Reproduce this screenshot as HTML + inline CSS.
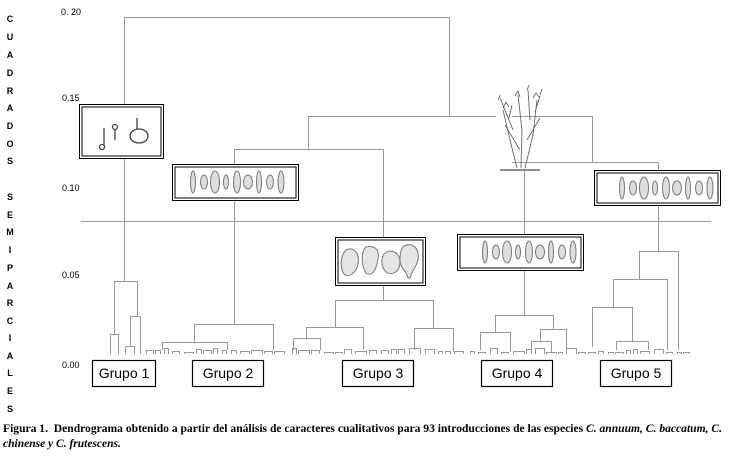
<!DOCTYPE html>
<html><head><meta charset="utf-8"><style>
html,body{margin:0;padding:0;background:#fff;width:737px;height:459px;overflow:hidden}
svg{display:block}
.ax{font-family:"Liberation Sans",sans-serif;font-size:9px;fill:#000}
.vl{font-family:"Liberation Sans",sans-serif;font-size:9px;font-weight:bold;fill:#000}
.g{font-family:"Liberation Sans",sans-serif;font-size:14px;fill:#000}
.cap{font-family:"Liberation Serif",serif;font-size:11.5px;font-weight:bold;fill:#000}
</style></head><body>
<svg id="s" width="737" height="459" viewBox="0 0 737 459" xmlns="http://www.w3.org/2000/svg">
<g class="ax">
<text x="61" y="15">0. 20</text><text x="62" y="101">0.15</text><text x="62" y="191">0.10</text><text x="62" y="278">0.05</text><text x="62" y="368">0.00</text>
</g>
<g class="vl" text-anchor="middle">
<text x="10" y="22">C</text><text x="10" y="40">U</text><text x="10" y="58">A</text><text x="10" y="76">D</text><text x="10" y="94">R</text><text x="10" y="111">A</text><text x="10" y="129">D</text><text x="10" y="147">O</text><text x="10" y="164">S</text>
<text x="10" y="200">S</text><text x="10" y="218">E</text><text x="10" y="235">M</text><text x="10" y="253">I</text><text x="10" y="271">P</text><text x="10" y="289">A</text><text x="10" y="306">R</text><text x="10" y="324">C</text><text x="10" y="341">I</text><text x="10" y="359">A</text><text x="10" y="376">L</text><text x="10" y="394">E</text><text x="10" y="412">S</text>
</g>
<text class="cap" x="3" y="432" textLength="719" lengthAdjust="spacingAndGlyphs">Figura 1.&#160; Dendrograma obtenido a partir del análisis de caracteres cualitativos para 93 introducciones de las especies <tspan font-style="italic">C. annuum, C. baccatum, C.</tspan></text>
<text class="cap" x="3" y="447" font-style="italic">chinense y C. frutescens.</text>
<g id="d" stroke="#999" stroke-width="1" fill="none">
<path d="M124.5 281V17.5H449.5V116.5"/>
<path d="M308.5 149V116.5H496M512 116.5H592.5V162.5"/>
<path d="M234.5 324V149.5H383.5V300"/>
<path d="M512 162.5H658.5V251"/>
<path d="M524.5 170V315"/>
<path d="M81 221.5H711"/>
<path d="M114.5 334V281.5H137.5V316"/><path d="M110.5 354V334.5H118.5V354"/><path d="M130.5 346V316.5H140.5V354"/><path d="M125.5 354V346.5H134.5V354"/>
<path d="M194.5 342V324.5H273.5V350"/><path d="M162.5 350V342.5H227.5V350"/>
<path d="M335.5 327V300.5H433.5V328"/><path d="M306.5 338V327.5H363.5V350"/><path d="M293.5 350V338.5H320.5V350"/><path d="M414.5 350V328.5H453.5V352"/>
<path d="M495.5 332V315.5H553.5V329"/><path d="M480.5 350V332.5H510.5V352"/><path d="M540.5 341V329.5H566.5V350"/><path d="M531.5 352V341.5H551.5V352"/>
<path d="M639.5 279V251.5H678.5V350"/><path d="M613.5 307V279.5H667.5V350"/><path d="M592.5 347V307.5H632.5V341"/><path d="M616.5 350V341.5H648.5V350"/>
</g>
<g fill="#fff" stroke="#000" stroke-width="1.2">
<rect x="92.5" y="360.5" width="63" height="26"/><rect x="192.5" y="360.5" width="71" height="26"/><rect x="342.5" y="360.5" width="71" height="26"/><rect x="481.5" y="360.5" width="71" height="26"/><rect x="600.5" y="360.5" width="71" height="26"/>
</g>
<g class="g" text-anchor="middle"><text x="124" y="378">Grupo 1</text><text x="228" y="378">Grupo 2</text><text x="378" y="378">Grupo 3</text><text x="517" y="378">Grupo 4</text><text x="636" y="378">Grupo 5</text></g>
<g fill="#fff" stroke="#000">
<rect x="79.5" y="104.5" width="84" height="54"/><rect x="82" y="107" width="79" height="49"/>
<rect x="172.5" y="164.5" width="126" height="36"/><rect x="175" y="167" width="121" height="31"/>
<rect x="335.5" y="237.5" width="90" height="48"/><rect x="338" y="240" width="85" height="43"/>
<rect x="457.5" y="234.5" width="126" height="36"/><rect x="460" y="237" width="121" height="31"/>
<rect x="594.5" y="170.5" width="126" height="35"/><rect x="597" y="173" width="121" height="30"/>
</g>
<g stroke="#444" fill="none" stroke-width="1.3">
<path d="M104 128V145"/><circle cx="102" cy="147" r="2.5"/><path d="M115 130V140"/><circle cx="115" cy="127" r="2.5"/><path d="M137 118V129"/><ellipse cx="139" cy="136" rx="9" ry="7"/>
</g>
<g id="p" stroke="#777" fill="#ddd" stroke-width="1"></g>
<g stroke="#666" fill="none" stroke-width="0.9">
<path d="M517 168L510 140L503 110M521 168L522 130L518 95M525 168L533 135L537 100M520 150L505 125M527 140L540 118M513 130L500 98M530 120L528 90M509 118L512 105M535 112L540 96"/>
<path d="M503 108l3-6 3 5M515 96l3-5 2 6M533 98l3-5 3 4M498 100l2-5M540 95l2-6M527 90l2-5" />
<path d="M500 170H540" stroke-width="1.5"/>
</g>
<g stroke="#777" fill="#e5e5e5">
<path d="M346 250c8-4 14 4 12 14c-2 10-10 14-14 10c-4-6-4-18 2-24z"/><path d="M366 247c8-2 14 2 12 12c-2 12-6 18-12 14c-4-6-6-20 0-26z"/><path d="M384 254c6-6 16-2 16 8c0 10-8 14-14 10c-4-4-6-12-2-18z"/><path d="M404 246c8-4 16 2 14 14c-2 8-6 10-8 18h-2c-2-8-8-10-8-18c0-6 1-12 4-14z"/>
</g>
</svg>
<script>
var s="http://www.w3.org/2000/svg",p=document.getElementById('p'),d=document.getElementById('d');
function pep(x0,y0){for(var i=0;i<9;i++){var e=document.createElementNS(s,'ellipse');e.setAttribute('cx',x0+i*11);e.setAttribute('cy',y0);e.setAttribute('rx',i==8?3:2.5+(i%3));e.setAttribute('ry',i%2?7:11);p.appendChild(e);}}
pep(193,182);pep(485,252);pep(622,188);
var ranges=[[146,280],[292,460],[470,584],[588,684]];var seed=7;function r(){seed=(seed*9301+49297)%233280;return seed/233280;}
ranges.forEach(function(a){for(var x=a[0];x<a[1];){var w=4+Math.floor(r()*8),h=2+Math.floor(r()*5);var q=document.createElementNS(s,'path');q.setAttribute('d','M'+(x+.5)+' 354V'+(354-h+.5)+'H'+(x+w+.5)+'V354');d.appendChild(q);x+=w+2+Math.floor(r()*4);}});
</script>
</body></html>
